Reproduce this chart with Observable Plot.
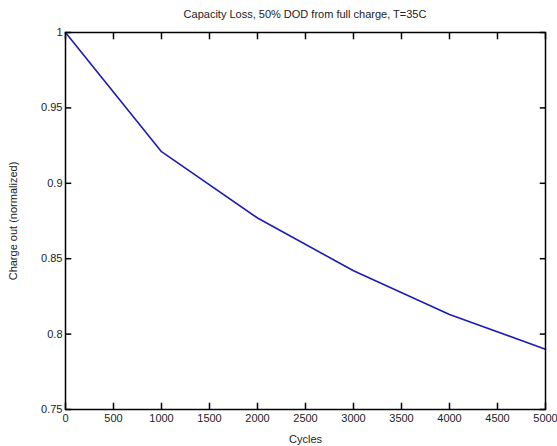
<!DOCTYPE html>
<html>
<head>
<meta charset="utf-8">
<script src="https://cdn.jsdelivr.net/npm/d3@7"></script>
<script src="https://cdn.jsdelivr.net/npm/@observablehq/plot@0.6"></script>
<style>
  body { margin: 0; background: #fff; }
  #title { width: 557px; box-sizing: border-box; padding-left: 65px; padding-right: 12px; height: 24px; line-height: 28px; text-align: center; font-family: "Liberation Sans", Arial, sans-serif; font-size: 11px; color: #222; }
  svg { display: block; }
</style>
</head>
<body>
<div id="title">Capacity Loss, 50% DOD from full charge, T=35C</div>
<div id="chart"></div>
<script>
const cycles = [0, 1000, 2000, 3000, 4000, 5000];
const chargeOut = [1.0, 0.921, 0.877, 0.842, 0.813, 0.790];
const xTicks = [0, 500, 1000, 1500, 2000, 2500, 3000, 3500, 4000, 4500, 5000];
const yTicks = [0.75, 0.8, 0.85, 0.9, 0.95, 1];

const data = cycles.map((c, i) => ({cycles: c, charge: chargeOut[i]}));

const xMin = 0, xMax = 5000, yMin = 0.75, yMax = 1;
const yLen = 0.0045;  // tick length along y, in data units
const xLen = 60;      // tick length along x, in data units
const tickStyle = {stroke: "#000", strokeWidth: 1.5};

const font = "Liberation Sans, Arial, sans-serif";
const plot = Plot.plot({
  width: 557,
  height: 422,
  marginTop: 8,
  marginBottom: 37,
  marginLeft: 65,
  marginRight: 12,
  style: {fontFamily: font, fontSize: "11px", color: "#222", background: "#fff"},
  x: {domain: [xMin, xMax]},
  y: {domain: [yMin, yMax]},
  marks: [
    // inward tick marks on all four sides
    Plot.link(xTicks, {x1: d => d, x2: d => d, y1: () => yMin, y2: () => yMin + yLen, ...tickStyle}),
    Plot.link(xTicks, {x1: d => d, x2: d => d, y1: () => yMax, y2: () => yMax - yLen, ...tickStyle}),
    Plot.link(yTicks, {y1: d => d, y2: d => d, x1: () => xMin, x2: () => xMin + xLen, ...tickStyle}),
    Plot.link(yTicks, {y1: d => d, y2: d => d, x1: () => xMax, x2: () => xMax - xLen, ...tickStyle}),
    Plot.line(data, {x: "cycles", y: "charge", stroke: "#1c1cb4", strokeWidth: 1.6}),
    Plot.axisX(xTicks, {anchor: "bottom", tickSize: 0, tickPadding: 5, tickFormat: d3.format("d"), label: "Cycles", labelAnchor: "center", labelArrow: "none", labelOffset: 33}),
    Plot.axisY(yTicks, {anchor: "left", tickSize: 0, tickPadding: 3, tickFormat: d3.format("~g"), label: "Charge out (normalized)", labelAnchor: "center", labelArrow: "none", labelOffset: 56}),
    Plot.frame({stroke: "#000", strokeWidth: 1.5})
  ]
});
document.getElementById("chart").appendChild(plot);
</script>
</body>
</html>
